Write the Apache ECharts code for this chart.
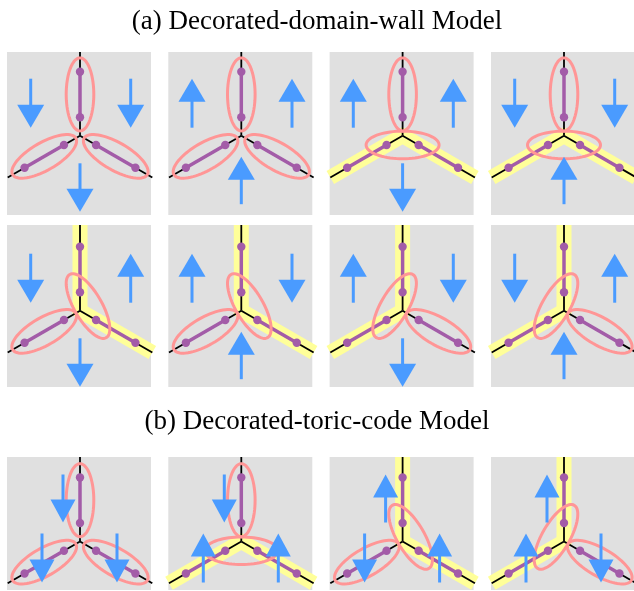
<!DOCTYPE html>
<html><head><meta charset="utf-8">
<script src="https://cdn.jsdelivr.net/npm/echarts@6/dist/echarts.min.js"></script>
<style>html,body{margin:0;padding:0;background:#fff}#c{width:634px;height:591px}</style>
</head><body><div id="c"></div>
<script>
// ---- data ----
const titles = ['(a) Decorated-domain-wall Model', '(b) Decorated-toric-code Model'];
// Decorated-domain-wall panels: plaquette spins [left, right, bottom]; 1 = up, -1 = down
const dwSpins = [[-1,-1,-1],[1,1,1],[1,1,-1],[-1,-1,1],[-1,1,-1],[1,-1,1],[1,-1,-1],[-1,1,1]];
// domain-wall legs (0 = top, 1 = lower-left, 2 = lower-right)
const dwWalls = [[],[],[1,2],[1,2],[0,2],[0,2],[0,1],[0,1]];
// Decorated-toric-code panels: edge spins [top, lower-left, lower-right]
const tcSpins = [[-1,-1,-1],[-1,1,1],[1,-1,1],[1,1,-1]];
const tcWalls = [[],[1,2],[0,2],[0,1]];

// ---- layout ----
const VX = [80, 241.3, 402.6, 564];
const VY = [135.7, 310.7, 541.5];
const TOP = [52, 225, 457];
const BOT = [215, 387, 590];

const panels = [];
dwSpins.forEach((s, i) => panels.push({col: i % 4, row: Math.floor(i / 4), kind: 'dw', spins: s, walls: dwWalls[i]}));
tcSpins.forEach((s, i) => panels.push({col: i, row: 2, kind: 'tc', spins: s, walls: tcWalls[i]}));
const seriesData = panels.map((p, i) => [p.col, p.row, i]);

const C = {gray: '#E0E0E0', yellow: '#FFFF99', black: '#000000', purple: '#A35CA8', pink: '#FF9696', blue: '#4A9BFF'};
const C30 = Math.cos(Math.PI / 6), S30 = 0.5;
const DIRS = [[0, -1], [-C30, S30], [C30, S30]];

function ellipsePts(cx, cy, a, b, ang) {
  const pts = [], ca = Math.cos(ang), sa = Math.sin(ang);
  for (let i = 0; i < 72; i++) {
    const t = i / 72 * Math.PI * 2;
    const x = a * Math.cos(t), y = b * Math.sin(t);
    pts.push([cx + x * ca - y * sa, cy + x * sa + y * ca]);
  }
  return pts;
}
function arrow(x, y0, y1, dir, w, h) {
  const out = [];
  if (dir > 0) {
    out.push({type: 'line', shape: {x1: x, y1: y0 + h - 2, x2: x, y2: y1}, style: {stroke: C.blue, lineWidth: 3}});
    out.push({type: 'polygon', shape: {points: [[x, y0], [x - w / 2, y0 + h], [x + w / 2, y0 + h]]}, style: {fill: C.blue}});
  } else {
    out.push({type: 'line', shape: {x1: x, y1: y0, x2: x, y2: y1 - h + 2}, style: {stroke: C.blue, lineWidth: 3}});
    out.push({type: 'polygon', shape: {points: [[x, y1], [x - w / 2, y1 - h], [x + w / 2, y1 - h]]}, style: {fill: C.blue}});
  }
  return out;
}

function renderItem(params, api) {
  const col = api.value(0), row = api.value(1), p = panels[api.value(2)];
  const v = api.coord([VX[col], VY[row]]);
  const tl = api.coord([VX[col] - 73, TOP[row]]);
  const br = api.coord([VX[col] + 71, BOT[row]]);
  const ch = [];
  ch.push({type: 'rect', shape: {x: tl[0], y: tl[1], width: br[0] - tl[0], height: br[1] - tl[1]}, style: {fill: C.gray}});
  const L = 83.5;
  const ends = [[v[0], tl[1]], [v[0] + DIRS[1][0] * L, v[1] + DIRS[1][1] * L], [v[0] + DIRS[2][0] * L, v[1] + DIRS[2][1] * L]];
  if (p.walls.length === 2) {
    ch.push({type: 'polyline', shape: {points: [ends[p.walls[0]], v, ends[p.walls[1]]]},
      style: {stroke: C.yellow, lineWidth: 15, fill: null, lineJoin: 'miter', lineCap: 'butt'}});
  }
  ends.forEach(e => ch.push({type: 'line', shape: {x1: v[0], y1: v[1], x2: e[0], y2: e[1]}, style: {stroke: C.black, lineWidth: 1.8}}));
  const inner = [], outer = [];
  DIRS.forEach(d => {
    const a = [v[0] + d[0] * 18.5, v[1] + d[1] * 18.5], b = [v[0] + d[0] * 64, v[1] + d[1] * 64];
    inner.push(a); outer.push(b);
    ch.push({type: 'line', shape: {x1: a[0], y1: a[1], x2: b[0], y2: b[1]}, style: {stroke: C.purple, lineWidth: 3.5}});
    ch.push({type: 'circle', shape: {cx: a[0], cy: a[1], r: 4.2}, style: {fill: C.purple}});
    ch.push({type: 'circle', shape: {cx: b[0], cy: b[1], r: 4.2}, style: {fill: C.purple}});
  });
  // ellipses
  for (let k = 0; k < 3; k++) {
    if (p.walls.indexOf(k) >= 0) continue;
    const d = DIRS[k];
    const cx = v[0] + d[0] * 41.3, cy = v[1] + d[1] * 41.3;
    ch.push({type: 'polygon', shape: {points: ellipsePts(cx, cy, 36.5, 13.8, Math.atan2(d[1], d[0]))}, style: {stroke: C.pink, lineWidth: 3, fill: null}});
  }
  if (p.walls.length === 2) {
    const a = inner[p.walls[0]], b = inner[p.walls[1]];
    const cx = (a[0] + b[0]) / 2, cy = (a[1] + b[1]) / 2;
    ch.push({type: 'polygon', shape: {points: ellipsePts(cx, cy, 36.5, 13.8, Math.atan2(b[1] - a[1], b[0] - a[0]))}, style: {stroke: C.pink, lineWidth: 3, fill: null}});
  }
  // arrows
  if (p.kind === 'dw') {
    ch.push(...arrow(v[0] - 49.3, v[1] - 57, v[1] - 8, p.spins[0], 27, 23));
    ch.push(...arrow(v[0] + 50.7, v[1] - 57, v[1] - 8, p.spins[1], 27, 23));
    if (p.spins[2] > 0) ch.push(...arrow(v[0], v[1] + 21, v[1] + 68.5, 1, 27, 23));
    else ch.push(...arrow(v[0], v[1] + 27.6, v[1] + 76, -1, 27, 23));
  } else {
    ch.push(...arrow(v[0] - 17, v[1] - 67, v[1] - 19, p.spins[0], 25, 23));
    ch.push(...arrow(v[0] - 38, v[1] - 8, v[1] + 41, p.spins[1], 25, 23));
    ch.push(...arrow(v[0] + 37, v[1] - 8, v[1] + 41, p.spins[2], 25, 23));
  }
  return {type: 'group', children: ch};
}

const chart = echarts.init(document.getElementById('c'), null, {renderer: 'canvas'});
chart.setOption({
  animation: false,
  backgroundColor: '#ffffff',
  title: [
    {text: titles[0], left: 'center', top: 3, textStyle: {fontFamily: 'Liberation Serif', fontSize: 27, fontWeight: 'normal', color: '#000'}},
    {text: titles[1], left: 'center', top: 403, textStyle: {fontFamily: 'Liberation Serif', fontSize: 27, fontWeight: 'normal', color: '#000'}}
  ],
  grid: {left: 0, right: 0, top: 0, bottom: 0},
  xAxis: {type: 'value', min: 0, max: 634, show: false},
  yAxis: {type: 'value', min: 0, max: 591, inverse: true, show: false},
  series: [{type: 'custom', coordinateSystem: 'cartesian2d', renderItem: renderItem, data: seriesData, clip: false, z: 1}]
});
</script></body></html>
